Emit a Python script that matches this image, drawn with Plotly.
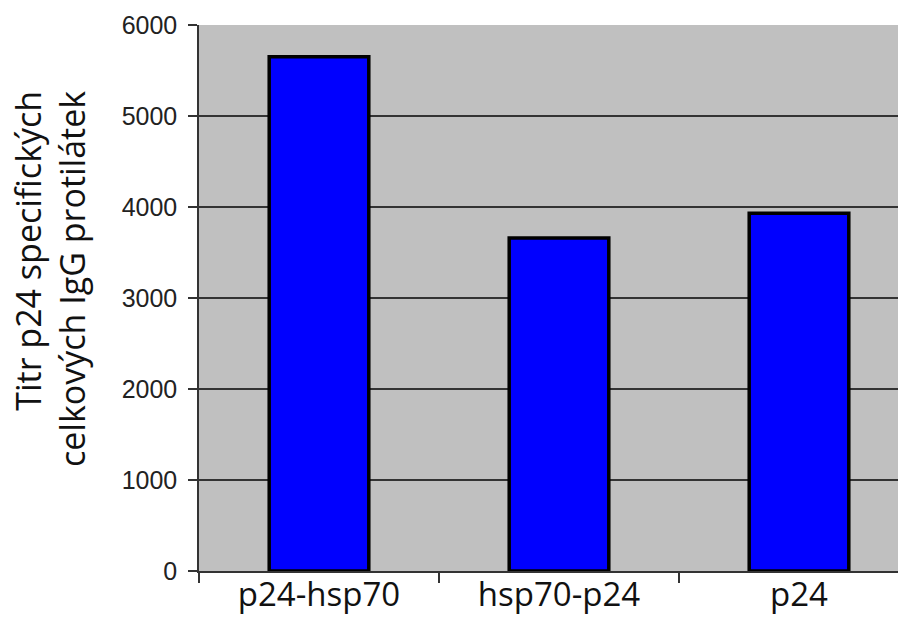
import plotly.graph_objects as go

categories = ["p24-hsp70", "hsp70-p24", "p24"]
titers = [5650, 3660, 3930]
y_ticks = [0, 1000, 2000, 3000, 4000, 5000, 6000]

fig = go.Figure(
    go.Bar(
        x=categories,
        y=titers,
        width=0.415,
        marker=dict(color="#0000FF", line=dict(color="black", width=3.5)),
    )
)

fig.update_layout(
    width=901,
    height=623,
    margin=dict(l=199, r=3, t=25, b=52),
    paper_bgcolor="white",
    plot_bgcolor="#C0C0C0",
    showlegend=False,
)

fig.update_xaxes(
    range=[-0.5, 2.4125],
    tickson="boundaries",
    ticks="outside",
    ticklen=10,
    tickwidth=1.5,
    tickcolor="#333",
    showline=True,
    linecolor="#333",
    linewidth=1.5,
    showgrid=False,
    automargin=False,
    ticklabelstandoff=-6,
    tickfont=dict(family="Open Sans", size=33, color="#111"),
)

fig.update_yaxes(
    range=[0, 6000],
    tickvals=y_ticks,
    ticktext=[str(v) for v in y_ticks],
    ticks="outside",
    ticklen=9,
    tickwidth=1.5,
    tickcolor="#333",
    showline=True,
    linecolor="#333",
    linewidth=1.5,
    showgrid=True,
    gridcolor="#333",
    gridwidth=1.5,
    zeroline=False,
    automargin=False,
    ticklabelstandoff=6,
    tickfont=dict(family="Liberation Sans, Arial", size=25, color="#222"),
)

fig.add_annotation(
    text="Titr p24 specifických<br>celkových IgG protilátek",
    xref="paper",
    yref="paper",
    x=-0.213,
    y=0.535,
    xanchor="center",
    yanchor="middle",
    align="right",
    textangle=-90,
    showarrow=False,
    font=dict(family="Open Sans", size=34, color="#111"),
)

fig.write_html("out.html")
